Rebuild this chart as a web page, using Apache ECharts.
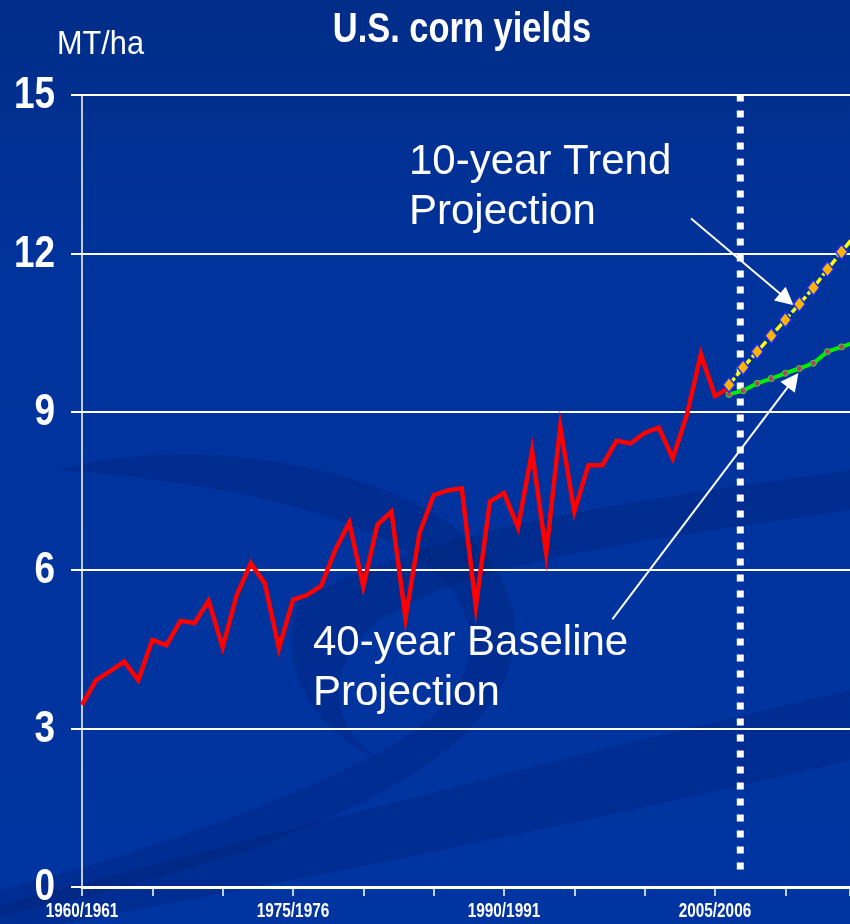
<!DOCTYPE html>
<html>
<head>
<meta charset="utf-8">
<script src="https://cdn.jsdelivr.net/npm/echarts@6/dist/echarts.min.js"></script>
<style>
html,body{margin:0;padding:0;background:#0033a0;}
#chart{width:850px;height:924px;}
</style>
</head>
<body>
<div id="chart"></div>
<script>
// ---- data ----
const years = [1960,1961,1962,1963,1964,1965,1966,1967,1968,1969,1970,1971,1972,1973,1974,1975,1976,1977,1978,1979,1980,1981,1982,1983,1984,1985,1986,1987,1988,1989,1990,1991,1992,1993,1994,1995,1996,1997,1998,1999,2000,2001,2002,2003,2004,2005,2006];
const yields = [3.45,3.92,4.09,4.27,3.92,4.68,4.58,5.04,5.00,5.42,4.54,5.53,6.13,5.75,4.52,5.44,5.53,5.70,6.38,6.90,5.69,6.86,7.11,5.09,6.71,7.42,7.51,7.55,5.31,7.30,7.46,6.81,8.26,6.32,8.72,7.11,7.99,7.99,8.45,8.40,8.60,8.70,8.12,8.94,10.09,9.30,9.45];
const projYears = [2006,2007,2008,2009,2010,2011,2012,2013,2014,2015];
const trend10 = [9.51,9.84,10.14,10.44,10.74,11.04,11.35,11.70,12.03,12.36];
const baseline40 = [9.33,9.40,9.54,9.63,9.73,9.82,9.92,10.14,10.23,10.32];
const xLabelYears = [1960,1975,1990,2005];
const xLabels = ['1960/1961','1975/1976','1990/1991','2005/2006'];
const yTicks = [0,3,6,9,12,15];
const divider = {year: 2006.8, from: 0.33, to: 15};
const titleText = 'U.S. corn yields';
const unitText = 'MT/ha';
const trendLabel = ['10-year Trend','Projection'];
const baseLabel = ['40-year Baseline','Projection'];
// annotation arrows in data coords [start, end]
const trendArrow = [[2003.3, 12.66], [2010.1, 11.13]];
const baseArrow = [[1997.7, 5.07], [2010.55, 9.60]];

const pair = (xs, ys) => xs.map((x, i) => [x, ys[i]]);

// background decoration: sample cubic bezier outlines into polygons
function bez(p0, p1, p2, p3, n) {
  const pts = [];
  for (let i = 0; i <= n; i++) {
    const t = i / n, u = 1 - t;
    pts.push([
      u*u*u*p0[0] + 3*u*u*t*p1[0] + 3*u*t*t*p2[0] + t*t*t*p3[0],
      u*u*u*p0[1] + 3*u*u*t*p1[1] + 3*u*t*t*p2[1] + t*t*t*p3[1]
    ]);
  }
  return pts;
}
function shape(curves) {
  let pts = [];
  curves.forEach(c => { pts = pts.concat(bez(c[0], c[1], c[2], c[3], 30)); });
  return pts;
}
const swirlFill = 'rgba(0,20,90,0.2)';
const swirls = [
  shape([[[0,905],[250,840],[550,760],[850,690]], [[850,760],[600,820],[300,880],[60,924]], [[60,924],[40,924],[20,924],[0,924]]]),
  shape([[[60,470],[200,430],[420,470],[490,560]], [[490,560],[560,660],[480,760],[300,830]], [[300,830],[200,870],[80,900],[0,915]], [[0,890],[120,860],[300,800],[400,740]], [[400,740],[500,680],[480,600],[420,560]], [[420,560],[330,500],[180,480],[60,470]]]),
  shape([[[300,600],[450,520],[650,500],[850,470]], [[850,510],[650,540],[470,560],[380,620]], [[380,620],[330,660],[320,720],[380,760]], [[380,760],[330,740],[270,680],[300,600]]])
];

const chart = echarts.init(document.getElementById('chart'), null, {renderer: 'canvas'});

const sans = '"Liberation Sans",Arial,Helvetica,sans-serif';

const option = {
  backgroundColor: {
    type: 'linear', x: 0, y: 0, x2: 0, y2: 1,
    colorStops: [{offset: 0, color: '#002d88'}, {offset: 0.3, color: '#00339c'}, {offset: 1, color: '#0034a0'}]
  },
  animation: false,
  grid: {left: 82, right: 0, top: 95, bottom: 37, containLabel: false},
  xAxis: {
    type: 'value', min: 1960, max: 2014.6, interval: 5,
    axisLine: {show: true, lineStyle: {color: '#ffffff', width: 3}},
    axisTick: {show: true, length: 9, lineStyle: {color: '#ffffff', width: 1.5}},
    splitLine: {show: false},
    axisLabel: {show: false}
  },
  yAxis: {
    type: 'value', min: yTicks[0], max: yTicks[yTicks.length - 1], interval: 3,
    axisLine: {show: true, lineStyle: {color: '#ffffff', width: 1.5}},
    axisTick: {show: true, length: 11, lineStyle: {color: '#ffffff', width: 2}},
    splitLine: {show: true, lineStyle: {color: '#ffffff', width: 2}},
    axisLabel: {show: false}
  },
  series: [
    {
      name: 'divider', type: 'line', z: 1, silent: true, symbol: 'none',
      data: [[divider.year, divider.from], [divider.year, divider.to]],
      lineStyle: {color: '#ffffff', width: 7, type: [7, 9], cap: 'butt'}
    },
    {
      name: 'U.S. corn yield', type: 'line', z: 3, silent: true, symbol: 'none',
      data: pair(years, yields),
      lineStyle: {color: '#ff0000', width: 4.5, join: 'miter'},
      markLine: {
        silent: true, symbol: ['none', 'triangle'], symbolSize: 18, animation: false,
        label: {show: false},
        emphasis: {disabled: true},
        lineStyle: {color: '#ffffff', width: 2, type: 'solid'},
        itemStyle: {color: '#ffffff'},
        data: [
          [{coord: trendArrow[0]}, {coord: trendArrow[1]}],
          [{coord: baseArrow[0]}, {coord: baseArrow[1]}]
        ]
      }
    },
    {
      name: '40-year Baseline Projection', type: 'line', z: 4, silent: true,
      data: pair(projYears, baseline40),
      symbol: 'circle', symbolSize: 6, showAllSymbol: true,
      itemStyle: {color: '#c03a6a', borderColor: '#22ee22', borderWidth: 1},
      lineStyle: {color: '#00ee00', width: 4}
    },
    {
      name: '10-year Trend Projection', type: 'line', z: 5, silent: true,
      data: pair(projYears, trend10),
      symbol: 'diamond', symbolSize: [12, 15], showAllSymbol: true,
      itemStyle: {color: '#ffb400', borderColor: '#1a2eff', borderWidth: 1.5},
      lineStyle: {color: '#ffff00', width: 3.5, type: [9, 3]}
    }
  ]
};
chart.setOption(option);

// ---- texts placed through the chart's own scales ----
const toPx = p => chart.convertToPixel({gridIndex: 0}, p);
const origin = toPx([1960, 0]);
const top15 = toPx([1960, yTicks[yTicks.length - 1]]);
const narrowText = (id, text, x, y, size, weight, align, sx) => ({
  id, type: 'text', z: 100, silent: true, x, y, scaleX: sx,
  style: {text, x: 0, y: 0, fill: '#ffffff', font: weight + ' ' + size + 'px ' + sans, textAlign: align, textVerticalAlign: 'middle'}
});
const g = swirls.map((pts, i) => ({id: 'sw' + i, type: 'polygon', silent: true, z: -10, shape: {points: pts}, style: {fill: swirlFill}}));
yTicks.forEach((v, i) => {
  const p = toPx([1960, v]);
  g.push(narrowText('yl' + i, String(v), p[0] - 27, p[1] + 1, 44, 'bold', 'right', 0.84));
});
xLabelYears.forEach((yr, i) => {
  const p = toPx([yr, 0]);
  g.push(narrowText('xl' + i, xLabels[i], p[0], p[1] + 24, 21, 'bold', 'center', 0.73));
});
g.push(narrowText('title', titleText, 462, 30, 42, 'bold', 'center', 0.82));
g.push(narrowText('unit', unitText, origin[0] - 25, top15[1] - 50, 33, 'normal', 'left', 0.93));
g.push({id: 'tl', type: 'text', z: 100, silent: true, style: {text: trendLabel.join('\n'), x: 409, y: 137, fill: '#ffffff', font: '42px ' + sans, lineHeight: 50}});
g.push({id: 'bl', type: 'text', z: 100, silent: true, style: {text: baseLabel.join('\n'), x: 313, y: 618, fill: '#ffffff', font: '42px ' + sans, lineHeight: 50}});
chart.setOption({graphic: g});
</script>
</body>
</html>
